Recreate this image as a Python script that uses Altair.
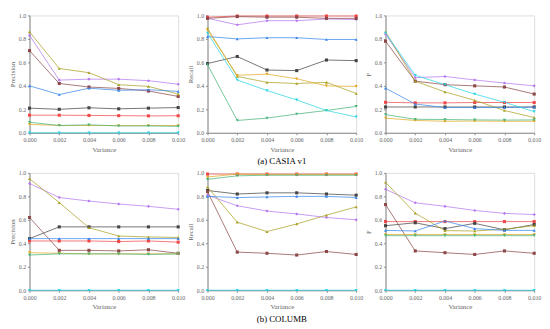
import altair as alt
import pandas as pd

variance = [0.000, 0.002, 0.004, 0.006, 0.008, 0.010]
methods = ["M1", "M2", "M3", "M4", "M5", "M6", "M7", "M8", "M9"]
colors = ["#f04848", "#454545", "#b478f0", "#8c4848", "#aaa024",
          "#3a86ec", "#e2aa24", "#46b478", "#28d4e4"]
shapes = ["square", "square", "diamond", "square", "triangle-up",
          "triangle-up", "triangle-down", "triangle-down", "triangle-down"]

# (a) CASIA v1
casia_precision = {
    "M1": [0.150, 0.150, 0.148, 0.146, 0.144, 0.145],
    "M2": [0.210, 0.200, 0.213, 0.204, 0.210, 0.215],
    "M3": [0.830, 0.449, 0.457, 0.457, 0.444, 0.414],
    "M4": [0.700, 0.420, 0.390, 0.378, 0.356, 0.310],
    "M5": [0.860, 0.548, 0.512, 0.410, 0.395, 0.330],
    "M6": [0.400, 0.326, 0.380, 0.362, 0.367, 0.353],
    "M7": [0.072, 0.062, 0.062, 0.062, 0.062, 0.062],
    "M8": [0.090, 0.062, 0.068, 0.058, 0.058, 0.055],
    "M9": [0.000, 0.000, 0.000, 0.000, 0.000, 0.000],
}
casia_recall = {
    "M1": [0.985, 0.995, 0.995, 0.995, 0.995, 0.995],
    "M2": [0.590, 0.650, 0.535, 0.530, 0.620, 0.615],
    "M3": [0.975, 0.920, 0.955, 0.955, 0.970, 0.965],
    "M4": [0.975, 0.990, 0.985, 0.985, 0.975, 0.975],
    "M5": [0.890, 0.480, 0.430, 0.420, 0.430, 0.335],
    "M6": [0.820, 0.800, 0.810, 0.810, 0.795, 0.795],
    "M7": [0.875, 0.490, 0.500, 0.460, 0.400, 0.395],
    "M8": [0.580, 0.105, 0.125, 0.160, 0.190, 0.225],
    "M9": [0.850, 0.450, 0.360, 0.280, 0.190, 0.135],
}
casia_f = {
    "M1": [0.260, 0.255, 0.255, 0.258, 0.258, 0.258],
    "M2": [0.220, 0.220, 0.220, 0.220, 0.220, 0.220],
    "M3": [0.840, 0.470, 0.480, 0.450, 0.424, 0.400],
    "M4": [0.780, 0.440, 0.410, 0.400, 0.390, 0.330],
    "M5": [0.860, 0.440, 0.348, 0.277, 0.190, 0.130],
    "M6": [0.380, 0.245, 0.215, 0.215, 0.215, 0.218],
    "M7": [0.125, 0.105, 0.098, 0.100, 0.098, 0.098],
    "M8": [0.155, 0.115, 0.113, 0.110, 0.108, 0.110],
    "M9": [0.850, 0.490, 0.410, 0.330, 0.260, 0.180],
}

# (b) COLUMB
columb_precision = {
    "M1": [0.420, 0.420, 0.420, 0.415, 0.420, 0.410],
    "M2": [0.440, 0.540, 0.540, 0.540, 0.540, 0.540],
    "M3": [0.910, 0.790, 0.760, 0.735, 0.715, 0.690],
    "M4": [0.620, 0.340, 0.340, 0.335, 0.345, 0.315],
    "M5": [0.950, 0.747, 0.533, 0.462, 0.454, 0.450],
    "M6": [0.440, 0.440, 0.440, 0.440, 0.440, 0.440],
    "M7": [0.320, 0.315, 0.310, 0.310, 0.310, 0.310],
    "M8": [0.300, 0.310, 0.310, 0.310, 0.305, 0.310],
    "M9": [0.000, 0.000, 0.000, 0.000, 0.000, 0.000],
}
columb_recall = {
    "M1": [0.990, 0.990, 0.990, 0.990, 0.990, 0.990],
    "M2": [0.850, 0.820, 0.830, 0.830, 0.820, 0.810],
    "M3": [0.810, 0.720, 0.675, 0.650, 0.620, 0.600],
    "M4": [0.840, 0.325, 0.315, 0.300, 0.330, 0.305],
    "M5": [0.880, 0.580, 0.500, 0.565, 0.640, 0.710],
    "M6": [0.800, 0.790, 0.795, 0.800, 0.800, 0.790],
    "M7": [0.965, 0.990, 0.985, 0.985, 0.985, 0.985],
    "M8": [0.945, 0.975, 0.980, 0.980, 0.980, 0.980],
    "M9": [0.000, 0.000, 0.000, 0.000, 0.000, 0.000],
}
columb_f = {
    "M1": [0.585, 0.585, 0.585, 0.585, 0.585, 0.585],
    "M2": [0.550, 0.575, 0.525, 0.570, 0.515, 0.560],
    "M3": [0.860, 0.745, 0.715, 0.680, 0.655, 0.645],
    "M4": [0.730, 0.335, 0.320, 0.305, 0.335, 0.315],
    "M5": [0.920, 0.657, 0.508, 0.505, 0.520, 0.550],
    "M6": [0.510, 0.505, 0.590, 0.525, 0.510, 0.510],
    "M7": [0.475, 0.475, 0.475, 0.475, 0.475, 0.475],
    "M8": [0.465, 0.465, 0.465, 0.465, 0.465, 0.465],
    "M9": [0.000, 0.000, 0.000, 0.000, 0.000, 0.000],
}

x_ticks = [0.000, 0.002, 0.004, 0.006, 0.008, 0.010]
y_ticks = [0.0, 0.2, 0.4, 0.6, 0.8, 1.0]

FONT = "Liberation Serif"
W, H = 152, 120


def to_df(values):
    rows = []
    for m in methods:
        for xv, yv in zip(variance, values[m]):
            rows.append({"variance": xv, "value": yv, "method": m})
    return pd.DataFrame(rows)


def axis(title, vals, fmt):
    return alt.Axis(values=vals, format=fmt, title=title,
                    grid=False, labelFont=FONT, labelFontSize=6,
                    titleFont=FONT, titleFontSize=7, titleFontWeight="normal",
                    labelColor="#666", titleColor="#666", labelFlush=False,
                    domainColor="#888", tickColor="#888", tickSize=2,
                    labelPadding=2, titlePadding=3)


def panel(values, ytitle, caption=None):
    df = to_df(values)
    base = alt.Chart(df).encode(
        x=alt.X("variance:Q", scale=alt.Scale(domain=[0, 0.01], nice=False),
                axis=axis("Variance", x_ticks, ".3f")),
        y=alt.Y("value:Q", scale=alt.Scale(domain=[0, 1], nice=False),
                axis=axis(ytitle, y_ticks, ".1f")),
        color=alt.Color("method:N", scale=alt.Scale(domain=methods, range=colors),
                        legend=None),
        order=alt.Order("variance:Q"),
    )
    lines = base.mark_line(strokeWidth=1, opacity=0.75)
    points = base.mark_point(filled=True, size=10, opacity=1).encode(
        shape=alt.Shape("method:N", scale=alt.Scale(domain=methods, range=shapes),
                        legend=None)
    )
    ch = alt.layer(lines, points).properties(width=W, height=H)
    if caption:
        ch = ch.properties(title=alt.TitleParams(
            caption, orient="bottom", anchor="middle", font=FONT, fontSize=9,
            fontWeight="normal", color="#000", offset=5))
    return ch


chart = alt.concat(
    panel(casia_precision, "Precision"),
    panel(casia_recall, "Recall", "(a) CASIA v1"),
    panel(casia_f, "F"),
    panel(columb_precision, "Precision"),
    panel(columb_recall, "Recall", "(b) COLUMB"),
    panel(columb_f, "F"),
    columns=3,
    spacing={"row": 41, "column": 30},
    bounds="flush",
).properties(padding=0).configure_view(stroke=None).configure(background="white")

chart.save("out.html", embed_options={"renderer": "svg", "actions": False})
